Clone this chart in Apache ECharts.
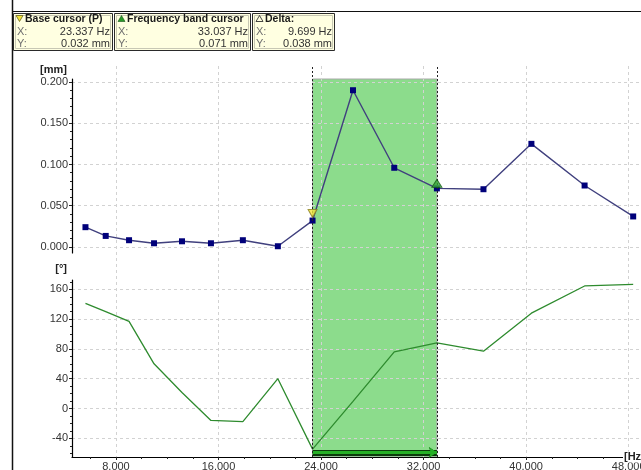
<!DOCTYPE html>
<html>
<head>
<meta charset="utf-8">
<script src="https://cdn.jsdelivr.net/npm/echarts@6/dist/echarts.min.js"></script>
<style>
  html, body { margin: 0; padding: 0; background: #fff; }
  #chart { width: 641px; height: 470px; }
</style>
</head>
<body>
<div id="chart"></div>
<script>
// Measured spectrum: frequency (Hz), amplitude (mm) and phase (deg)
const freqHz = [5.62, 7.20, 9.02, 10.97, 13.15, 15.41, 17.90, 20.63, 23.337, 26.49, 29.71, 33.037, 36.67, 40.41, 44.56, 48.35];
const amplitudeMm = [0.024, 0.0134, 0.0082, 0.0045, 0.0069, 0.0045, 0.0082, 0.0009, 0.032, 0.190, 0.096, 0.071, 0.070, 0.125, 0.0745, 0.037];
const phaseDeg = [141, 130, 117, 60, 21.5, -16, -17.5, 40, -54.5, 9.5, 76, 88, 77, 128, 164.5, 166.5];

// Cursors: base cursor and frequency band cursor (X in Hz, Y in mm) and their delta
const cursorX = [23.337, 33.037];
const cursorY = [0.032, 0.071];
const deltaXY = [9.699, 0.038];

// Axis ticks
const freqTicks = [8, 16, 24, 32, 40, 48];
const freqMinorTicks = [6, 10, 12, 14, 18, 20, 22, 26, 28, 30, 34, 36, 38, 42, 44, 46];
const ampTicks = [0, 0.05, 0.10, 0.15, 0.20];
const ampMinorTicks = [0.01, 0.02, 0.03, 0.04, 0.06, 0.07, 0.08, 0.09, 0.11, 0.12, 0.13, 0.14, 0.16, 0.17, 0.18, 0.19, 0.20];
const phaseTicks = [-40, 0, 40, 80, 120, 160];
const phaseMinorTicks = [-60, -50, -30, -20, -10, 10, 20, 30, 50, 60, 70, 90, 100, 110, 130, 140, 150, 170];

// Visible axis ranges
const freqRange = [4.57, 48.96];
const ampRange = [-0.0073, 0.2036];
const phaseRange = [-65.1, 172.5];
const bandBarPhase = -59;

const FONT = '"Liberation Sans", Arial, sans-serif';
const gridLine = { show: true, lineStyle: { color: '#d2d2d2', type: [3, 3], width: 1 } };
const hidden = { show: false };

function minorAxis(gridIndex, range, ticks, position) {
  return {
    type: 'value', gridIndex, position, min: range[0], max: range[1],
    axisLine: hidden, axisLabel: hidden, splitLine: hidden,
    axisTick: { show: true, customValues: ticks, length: 2, lineStyle: { color: '#222' } }
  };
}

const chart = echarts.init(document.getElementById('chart'), null, { renderer: 'canvas' });

const option = {
  backgroundColor: '#ffffff',
  animation: false,
  textStyle: { fontFamily: FONT },
  grid: [
    { left: 72, right: 0, top: 79, height: 174, containLabel: false, outerBoundsMode: 'none' },
    { left: 72, right: 0, top: 280, bottom: 13, containLabel: false, outerBoundsMode: 'none' },
    { left: 72, right: 0, top: 66, bottom: 13, containLabel: false, outerBoundsMode: 'none' },
    { left: 72, right: 0, top: 79, bottom: 13, containLabel: false, outerBoundsMode: 'none' }
  ],
  xAxis: [
    { type: 'value', gridIndex: 0, min: freqRange[0], max: freqRange[1], show: false },
    {
      type: 'value', gridIndex: 1, position: 'bottom', min: freqRange[0], max: freqRange[1],
      axisLine: { show: true, onZero: false, lineStyle: { color: '#000', width: 1.2 } },
      axisTick: { show: true, customValues: freqTicks, length: 3, lineStyle: { color: '#222' } },
      axisLabel: {
        show: true, customValues: freqTicks, margin: 4, fontSize: 11, color: '#333', fontFamily: FONT,
        formatter: v => v.toFixed(3)
      },
      splitLine: hidden
    },
    Object.assign(minorAxis(1, freqRange, freqMinorTicks, 'bottom'), { axisLine: { show: false, onZero: false } }),
    {
      type: 'value', gridIndex: 2, min: freqRange[0], max: freqRange[1],
      axisLine: hidden, axisLabel: hidden,
      axisTick: { show: false, customValues: freqTicks },
      splitLine: gridLine
    },
    { type: 'value', gridIndex: 3, min: freqRange[0], max: freqRange[1], show: false }
  ],
  yAxis: [
    {
      type: 'value', gridIndex: 0, position: 'left', min: ampRange[0], max: ampRange[1],
      axisLine: { show: true, onZero: false, lineStyle: { color: '#000', width: 1.2 } },
      axisTick: { show: true, customValues: ampTicks, length: 3, lineStyle: { color: '#222' } },
      axisLabel: {
        show: true, customValues: ampTicks, margin: 4, fontSize: 11, color: '#333', fontFamily: FONT,
        formatter: v => v.toFixed(3)
      },
      splitLine: gridLine,
      name: '[mm]', nameLocation: 'end', nameGap: 4,
      nameTextStyle: { fontWeight: 'bold', fontSize: 11, color: '#222', fontFamily: FONT,
        align: 'right', verticalAlign: 'bottom', padding: [0, 5, 0, 0] }
    },
    minorAxis(0, ampRange, ampMinorTicks, 'left'),
    {
      type: 'value', gridIndex: 1, position: 'left', min: phaseRange[0], max: phaseRange[1],
      axisLine: { show: true, onZero: false, lineStyle: { color: '#000', width: 1.2 } },
      axisTick: { show: true, customValues: phaseTicks, length: 3, lineStyle: { color: '#222' } },
      axisLabel: {
        show: true, customValues: phaseTicks, margin: 4, fontSize: 11, color: '#333', fontFamily: FONT,
        formatter: v => String(v)
      },
      splitLine: gridLine,
      name: '[°]', nameLocation: 'end', nameGap: 6,
      nameTextStyle: { fontWeight: 'bold', fontSize: 11, color: '#222', fontFamily: FONT,
        align: 'right', verticalAlign: 'bottom', padding: [0, 5, 0, 0] }
    },
    minorAxis(1, phaseRange, phaseMinorTicks, 'left'),
    { type: 'value', gridIndex: 2, min: 0, max: 1, show: false },
    { type: 'value', gridIndex: 3, min: 0, max: 1, show: false }
  ],
  series: [
    {
      // frequency band between the two cursors
      type: 'line', xAxisIndex: 4, yAxisIndex: 5, data: [], z: -1, silent: true,
      markArea: {
        z: -1, silent: true,
        itemStyle: { color: '#8cdc8c', borderColor: '#a8a8a8', borderWidth: 1 },
        label: { show: false },
        data: [[{ xAxis: cursorX[0] }, { xAxis: cursorX[1] }]]
      }
    },
    {
      name: 'Amplitude', type: 'line', xAxisIndex: 0, yAxisIndex: 0,
      data: freqHz.map((f, i) => [f, amplitudeMm[i]]),
      symbol: 'rect', symbolSize: 6, showSymbol: true,
      lineStyle: { color: '#40407e', width: 1.4 },
      itemStyle: { color: '#00007a', borderWidth: 0 },
      z: 3
    },
    {
      name: 'Phase', type: 'line', xAxisIndex: 1, yAxisIndex: 2,
      data: freqHz.map((f, i) => [f, phaseDeg[i]]),
      showSymbol: false, symbol: 'none',
      lineStyle: { color: '#2e8b2e', width: 1.3 },
      z: 3,
      markLine: {
        silent: true, symbol: ['none', 'arrow'], symbolSize: [8, 8], label: { show: false },
        animation: false,
        data: [
          [{ coord: [cursorX[0], bandBarPhase], lineStyle: { color: '#0b3b0b', width: 6, type: 'solid' } },
           { coord: [cursorX[1], bandBarPhase] }],
          [{ coord: [cursorX[0], bandBarPhase], lineStyle: { color: '#26b026', width: 3, type: 'solid' } },
           { coord: [cursorX[1], bandBarPhase] }]
        ]
      }
    },
    {
      // cursor lines
      type: 'line', xAxisIndex: 3, yAxisIndex: 4, data: [], silent: true,
      markLine: {
        silent: true, symbol: ['none', 'none'], label: { show: false }, z: 6,
        lineStyle: { color: '#222', type: [2, 2], width: 1 },
        data: [{ xAxis: cursorX[0] }, { xAxis: cursorX[1] }]
      }
    },
    {
      name: 'Base cursor', type: 'scatter', xAxisIndex: 0, yAxisIndex: 0,
      data: [[cursorX[0], cursorY[0]]],
      symbol: 'triangle', symbolRotate: 180, symbolSize: [9, 8], symbolOffset: [0, -7],
      itemStyle: { color: '#f3e53a', borderColor: '#8a8020', borderWidth: 1 }, z: 7
    },
    {
      name: 'Frequency band cursor', type: 'scatter', xAxisIndex: 0, yAxisIndex: 0,
      data: [[cursorX[1], cursorY[1]]],
      symbol: 'triangle', symbolSize: [10, 8], symbolOffset: [0, -5],
      itemStyle: { color: '#35a535', borderColor: '#115a11', borderWidth: 1 }, z: 7
    }
  ],
  graphic: buildCursorInfo()
};

// Outer frame, frequency unit and cursor read-out boxes
function buildCursorInfo() {
  const els = [];
  els.push({ type: 'line', z: 100, shape: { x1: 12.5, y1: 0, x2: 12.5, y2: 470 }, style: { stroke: '#111', lineWidth: 1.5 } });
  els.push({ type: 'line', z: 100, shape: { x1: 12, y1: 11.5, x2: 641, y2: 11.5 }, style: { stroke: '#111', lineWidth: 1 } });

  // unit of the frequency axis, at the end of the axis line
  els.push({ type: 'text', z: 50, style: { x: 623, y: 457, text: '[Hz]',
    font: 'bold 11px ' + FONT, fill: '#222', backgroundColor: '#fff', padding: [0, 0, 0, 1],
    align: 'left', verticalAlign: 'middle', textAlign: 'left', textVerticalAlign: 'middle' } });

  const boxes = [
    { x: 13, w: 99, title: 'Base cursor (P)', xVal: cursorX[0].toFixed(3) + ' Hz', yVal: cursorY[0].toFixed(3) + ' mm', mark: 'down' },
    { x: 114, w: 136, title: 'Frequency band cursor', xVal: cursorX[1].toFixed(3) + ' Hz', yVal: cursorY[1].toFixed(3) + ' mm', mark: 'up' },
    { x: 252, w: 82, title: 'Delta:', xVal: deltaXY[0].toFixed(3) + ' Hz', yVal: deltaXY[1].toFixed(3) + ' mm', mark: 'delta' }
  ];
  const top = 13, h = 37;
  boxes.forEach(b => {
    els.push({ type: 'rect', z: 100, shape: { x: b.x + 0.5, y: top + 0.5, width: b.w, height: h },
      style: { fill: '#ffffe1', stroke: '#2a2a2a', lineWidth: 1 } });
    els.push({ type: 'rect', z: 100, shape: { x: b.x + 2.5, y: top + 2.5, width: b.w - 4, height: h - 4 },
      style: { fill: 'none', stroke: '#c8c8b4', lineWidth: 1 } });
    const tx = b.x + 3;
    if (b.mark === 'down') {
      els.push({ type: 'polygon', z: 101, shape: { points: [[tx, 15.5], [tx + 7, 15.5], [tx + 3.5, 21.5]] },
        style: { fill: '#f3e53a', stroke: '#6a6420', lineWidth: 0.8 } });
    } else if (b.mark === 'up') {
      els.push({ type: 'polygon', z: 101, shape: { points: [[tx + 1, 21.5], [tx + 8, 21.5], [tx + 4.5, 15.5]] },
        style: { fill: '#2a9a2a', stroke: '#145214', lineWidth: 0.6 } });
    } else {
      els.push({ type: 'polygon', z: 101, shape: { points: [[tx + 1, 21.5], [tx + 8, 21.5], [tx + 4.5, 15.5]] },
        style: { fill: 'none', stroke: '#333', lineWidth: 0.9 } });
    }
    els.push({ type: 'text', z: 101, style: { x: tx + (b.mark === 'down' ? 9 : 10), y: 19, text: b.title,
      font: 'bold 10.5px ' + FONT, fill: '#1a1a1a', align: 'left', verticalAlign: 'middle',
      textAlign: 'left', textVerticalAlign: 'middle' } });
    [['X:', b.xVal, 32], ['Y:', b.yVal, 44]].forEach(r => {
      els.push({ type: 'text', z: 101, style: { x: b.x + 4, y: r[2], text: r[0],
        font: '11px ' + FONT, fill: '#707070', align: 'left', verticalAlign: 'middle',
        textAlign: 'left', textVerticalAlign: 'middle' } });
      els.push({ type: 'text', z: 101, style: { x: b.x + b.w - 2, y: r[2], text: r[1],
        font: '11px ' + FONT, fill: '#333', align: 'right', verticalAlign: 'middle',
        textAlign: 'right', textVerticalAlign: 'middle' } });
    });
  });
  return els;
}

chart.setOption(option);
</script>
</body>
</html>
